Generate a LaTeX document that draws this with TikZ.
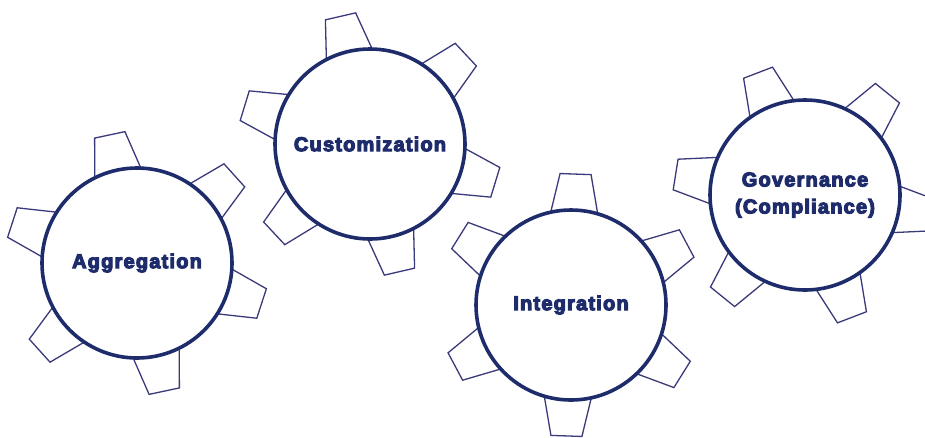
\documentclass[tikz,border=0pt]{standalone}
\usepackage{fontspec}
\setmainfont{Liberation Sans}[BoldFeatures={FakeBold=5.5,LetterSpace=6}]
\definecolor{navy}{HTML}{1E2C6C}
\definecolor{toothc}{HTML}{3A3A7A}
\tikzset{
  gearcircle/.style={circle, draw=navy, line width=3.6pt, fill=white, minimum size=190pt, inner sep=0pt,
    font=\fontsize{20}{27}\selectfont\bfseries, text=navy, align=center},
  tooth/.style={draw=toothc, line width=1.3pt, fill=white, line join=miter}
}
\newcommand{\gearteeth}[2]{%
  \foreach \k in {0,...,5}{%
    \pgfmathsetmacro{\ang}{#2+60*\k}%
    \draw[tooth, shift={(#1)}, rotate=\ang] (80pt,-26pt) -- (131pt,-15.5pt) -- (131pt,15.5pt) -- (80pt,26pt) -- cycle;
  }%
}
\begin{document}
\begin{tikzpicture}[x=1pt,y=-1pt]
\useasboundingbox (0,0) rectangle (925,437);
\coordinate (c1) at (137,263);
\coordinate (c2) at (370,144);
\coordinate (c3) at (571,305);
\coordinate (c4) at (805,195);
\gearteeth{c1}{42}
\gearteeth{c2}{43}
\gearteeth{c3}{28}
\gearteeth{c4}{51}
\node[gearcircle] (agg) at (c1) {Aggregation};
\node[gearcircle] (cust) at (c2) {Customization};
\node[gearcircle] (integ) at (c3) {Integration};
\node[gearcircle] (gov) at (c4) {Governance\\(Compliance)};
\end{tikzpicture}
\end{document}
